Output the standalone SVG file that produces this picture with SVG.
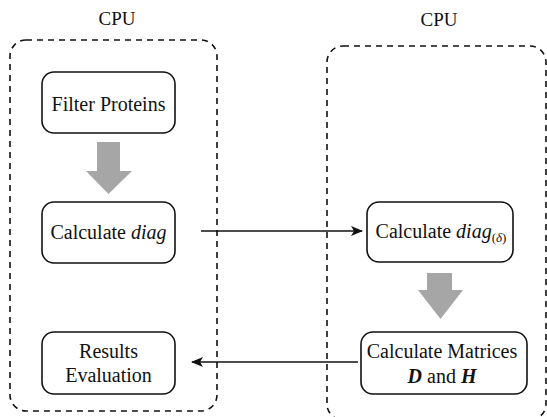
<svg xmlns="http://www.w3.org/2000/svg" width="547" height="417" viewBox="0 0 547 417">
<defs>
<style>
text{font-family:"Liberation Serif","Times New Roman",serif;font-size:20px;fill:#111;text-anchor:middle}
.label{font-size:19px}
.group{fill:none;stroke:#111;stroke-width:1.6;stroke-dasharray:6,5}
.node{fill:#fff;stroke:#111;stroke-width:1.6}
.link{stroke:#111;stroke-width:1.4;fill:none}
.flow{fill:#a6a6a6}
</style>
<marker id="ah" viewBox="0 0 12 10" refX="11" refY="5" markerWidth="12" markerHeight="10" markerUnits="userSpaceOnUse" orient="auto">
<path d="M0,0 L12,5 L0,10 L3,5 Z" fill="#111"/>
</marker>
</defs>
<g id="cpu-left">
<rect class="group" x="10" y="40" width="207" height="371" rx="16"/>
<text class="label" x="117" y="25">CPU</text>
</g>
<g id="cpu-right">
<rect class="group" x="327" y="46" width="219" height="374" rx="16"/>
<text class="label" x="439" y="26">CPU</text>
</g>
<g id="connectors">
<path class="flow" d="M97,142 H120 V171 H132 L108.5,194 L86,171 H97 Z"/>
<path class="flow" d="M427,273 H452 V290 H463 L440.5,319 L418,290 H427 Z"/>
<line class="link" x1="201" y1="231" x2="362" y2="231" marker-end="url(#ah)"/>
<line class="link" x1="358" y1="362" x2="192" y2="362" marker-end="url(#ah)"/>
</g>
<g id="filter-proteins">
<rect class="node" x="42" y="72" width="133" height="61" rx="12"/>
<text x="108.5" y="111">Filter Proteins</text>
</g>
<g id="calculate-diag">
<rect class="node" x="42" y="202" width="133" height="61" rx="12"/>
<text x="108.5" y="239">Calculate <tspan font-style="italic">diag</tspan></text>
</g>
<g id="results-evaluation">
<rect class="node" x="42" y="332" width="133" height="62" rx="12"/>
<text x="108.5" y="358">Results</text>
<text x="108.5" y="382">Evaluation</text>
</g>
<g id="calculate-diag-delta">
<rect class="node" x="367" y="202" width="146" height="60" rx="12"/>
<text x="441" y="238">Calculate <tspan font-style="italic">diag</tspan><tspan font-size="13" dy="4">(<tspan font-style="italic">δ</tspan>)</tspan></text>
</g>
<g id="calculate-matrices">
<rect class="node" x="361" y="332" width="166" height="62" rx="12"/>
<text x="442" y="358">Calculate Matrices</text>
<text x="442" y="383"><tspan font-weight="bold" font-style="italic">D</tspan> and <tspan font-weight="bold" font-style="italic">H</tspan></text>
</g>
</svg>
